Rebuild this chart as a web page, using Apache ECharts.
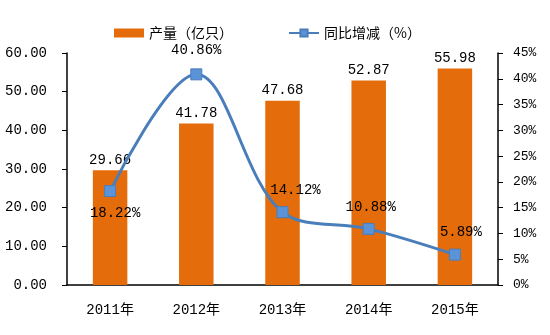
<!DOCTYPE html>
<html><head><meta charset="utf-8">
<script src="https://cdn.jsdelivr.net/npm/echarts@6/dist/echarts.min.js"></script>
<style>html,body{margin:0;padding:0;background:#fff}#c{width:550px;height:335px}</style>
</head><body><div id="c"></div>
<script>
var categories = ['2011年','2012年','2013年','2014年','2015年'];
var output = [29.66, 41.78, 47.68, 52.87, 55.98];
var growth = [18.22, 40.86, 14.12, 10.88, 5.89];
var leftTicks = {min:0, max:60, interval:10};
var rightTicks = {min:0, max:45, interval:5};
var growthLabelPos = ['bottom','top','top','top','top'];
var growthLabelOffset = [[5,0],[0,-2],[13,0],[2,0],[6,0]];

var FONT = '"Liberation Mono","Noto Sans CJK SC",monospace';
var chart = echarts.init(document.getElementById('c'));
chart.setOption({
  animation:false,
  textStyle:{fontFamily:FONT},
  legend:{
    top:21, left:109, itemGap:55, itemWidth:30, itemHeight:9,
    textStyle:{fontFamily:'"Noto Sans CJK SC",sans-serif', fontSize:14, color:'#000'},
    data:[{name:'产量（亿只）', icon:'rect'},{name:'同比增减（%）'}]
  },
  grid:{left:67, right:52, top:53, bottom:50},
  xAxis:{
    type:'category', data:categories,
    axisLine:{lineStyle:{color:'#000', width:1.5}},
    axisTick:{inside:true, length:5, lineStyle:{color:'#000'}},
    axisLabel:{color:'#000', fontSize:14, margin:18, fontFamily:FONT}
  },
  yAxis:[{
    type:'value', min:leftTicks.min, max:leftTicks.max, interval:leftTicks.interval,
    axisLine:{show:true, lineStyle:{color:'#000', width:1.5}},
    axisTick:{show:true, length:5, lineStyle:{color:'#000'}},
    splitLine:{show:false},
    axisLabel:{color:'#000', fontSize:14, margin:20, fontFamily:FONT, formatter:function(v){return v.toFixed(2);}}
  },{
    type:'value', min:rightTicks.min, max:rightTicks.max, interval:rightTicks.interval,
    axisLine:{show:true, lineStyle:{color:'#000', width:1.5}},
    axisTick:{show:true, length:5, lineStyle:{color:'#000'}},
    splitLine:{show:false},
    axisLabel:{color:'#000', fontSize:13, margin:15, fontFamily:FONT, formatter:'{value}%'}
  }],
  series:[{
    name:'产量（亿只）', type:'bar', data:output, barWidth:'40%',
    itemStyle:{color:'#E46C0A'},
    label:{show:true, position:'top', color:'#000', fontSize:14, fontFamily:FONT, distance:3,
      formatter:function(p){return p.value.toFixed(2);}}
  },{
    name:'同比增减（%）', type:'line', yAxisIndex:1, smooth:0.35,
    data:growth.map(function(v,i){return {value:v, label:{position:growthLabelPos[i], offset:growthLabelOffset[i]}};}),
    symbol:'rect', symbolSize:11,
    lineStyle:{color:'#4A7EBB', width:3},
    itemStyle:{color:'#5B93D8', borderColor:'#4A7EBB', borderWidth:1},
    label:{show:true, color:'#000', fontSize:14, fontFamily:FONT, distance:9,
      formatter:function(p){return p.value.toFixed(2)+'%';}}
  }]
});
</script></body></html>
